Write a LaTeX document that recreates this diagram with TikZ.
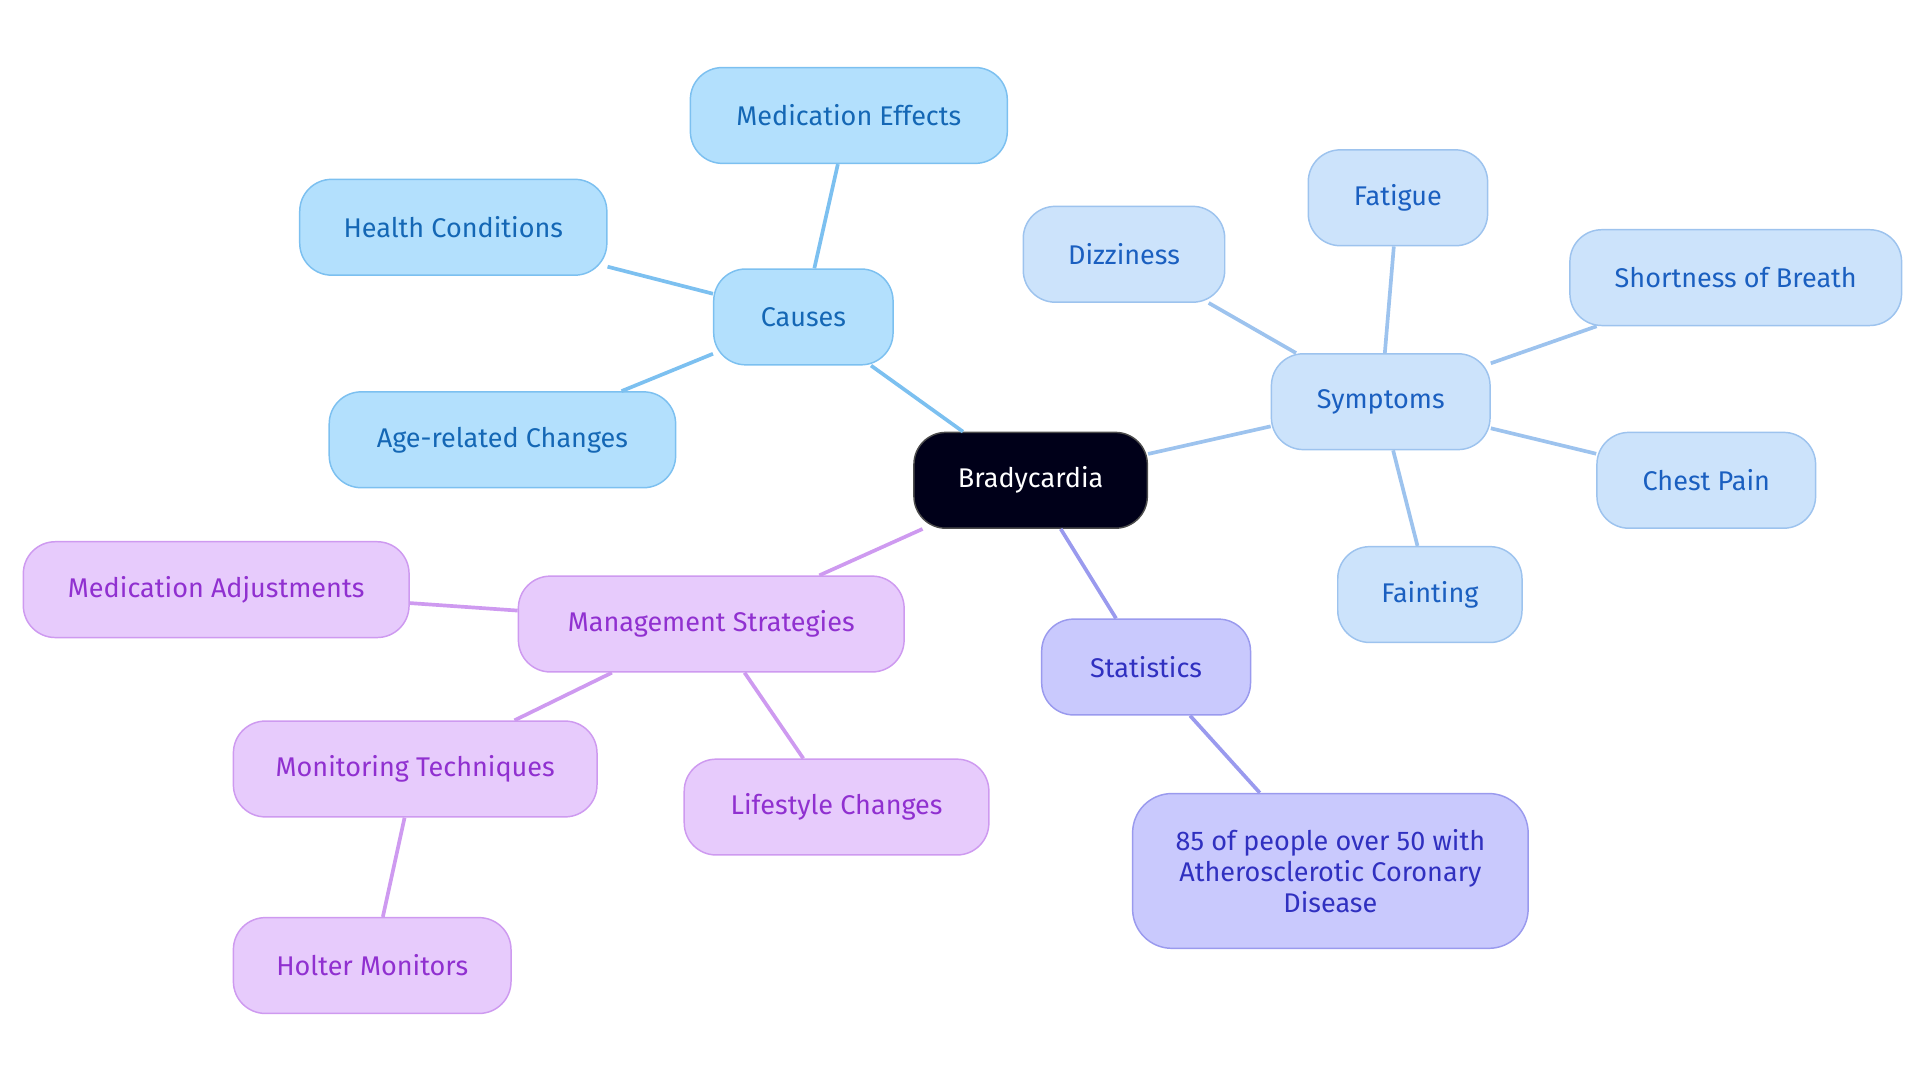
\documentclass[tikz,border=0pt]{standalone}
\usepackage{fontspec}
\setmainfont{Fira Sans}
\begin{document}
\begin{tikzpicture}[x=0.5pt,y=-0.5pt,
 every node/.style={font=\fontsize{11}{12.5}\selectfont\addfontfeatures{FakeBold=0}, rounded corners=13pt, minimum height=39pt, inner sep=2pt, draw, line width=0.6pt, align=center},
 ca/.style={fill=cfill, draw=cline, text=ctext},
 sy/.style={fill=sfill, draw=sline, text=stext},
 st/.style={fill=tfill, draw=tline, text=ttext},
 mg/.style={fill=mfill, draw=mline, text=mtext},
 e/.style={line width=1.5pt}]
\definecolor{cfill}{HTML}{B3E0FD}\definecolor{cline}{HTML}{7CC0F0}\definecolor{ctext}{HTML}{1467B5}
\definecolor{sfill}{HTML}{CCE3FB}\definecolor{sline}{HTML}{9DC3EE}\definecolor{stext}{HTML}{1A5FC0}
\definecolor{tfill}{HTML}{C9C9FD}\definecolor{tline}{HTML}{9A9AEE}\definecolor{ttext}{HTML}{3030C0}
\definecolor{mfill}{HTML}{E7CBFC}\definecolor{mline}{HTML}{CE9AF0}\definecolor{mtext}{HTML}{9030D0}
\useasboundingbox (0,0) rectangle (1563,882);
\node[fill=black!90!blue, draw=black!70, text=white, minimum width=95pt] (b) at (839,391) {Bradycardia};
\node[ca, minimum width=73pt] (c) at (654,258) {Causes};
\node[ca, minimum width=129pt] (c1) at (691,94) {Medication Effects};
\node[ca, minimum width=125pt] (c2) at (369,185) {Health Conditions};
\node[ca, minimum width=141pt] (c3) at (409,358) {Age-related Changes};
\node[sy, minimum width=89pt] (s) at (1124,327) {Symptoms};
\node[sy, minimum width=82pt] (s1) at (915,207) {Dizziness};
\node[sy, minimum width=73pt] (s2) at (1138,161) {Fatigue};
\node[sy, minimum width=135pt] (s3) at (1413,226) {Shortness of Breath};
\node[sy, minimum width=89pt] (s4) at (1389,391) {Chest Pain};
\node[sy, minimum width=75pt] (s5) at (1164,484) {Fainting};
\node[st, minimum width=85pt] (t) at (933,543) {Statistics};
\node[st, minimum width=161pt, minimum height=63pt, rounded corners=16pt] (t1) at (1083,709) {85 of people over 50 with\\Atherosclerotic Coronary\\Disease};
\node[mg, minimum width=157pt] (m) at (579,508) {Management Strategies};
\node[mg, minimum width=157pt] (m1) at (176,480) {Medication Adjustments};
\node[mg, minimum width=148pt] (m2) at (338,626) {Monitoring Techniques};
\node[mg, minimum width=124pt] (m3) at (681,657) {Lifestyle Changes};
\node[mg, minimum width=113pt] (m4) at (303,786) {Holter Monitors};
\begin{scope}[on background layer/.try]
\end{scope}
\begin{pgfonlayer}{main}\end{pgfonlayer}
\draw[e, cline] (b) -- (c); \draw[e, cline] (c) -- (c1); \draw[e, cline] (c) -- (c2); \draw[e, cline] (c) -- (c3);
\draw[e, sline] (b) -- (s); \foreach \n in {s1,s2,s3,s4,s5} \draw[e, sline] (s) -- (\n);
\draw[e, tline] (b) -- (t); \draw[e, tline] (t) -- (t1);
\draw[e, mline] (b) -- (m); \draw[e, mline] (m) -- (m1); \draw[e, mline] (m) -- (m2); \draw[e, mline] (m) -- (m3); \draw[e, mline] (m2) -- (m4);
\end{tikzpicture}
\end{document}
